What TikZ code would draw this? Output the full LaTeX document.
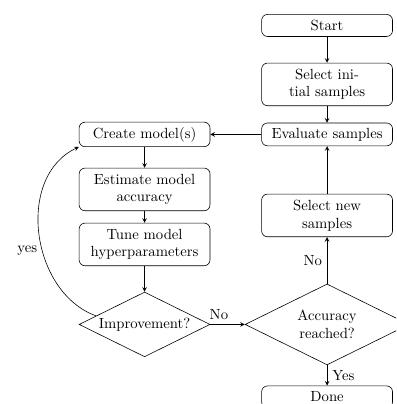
\documentclass[tikz,border=0pt]{standalone}
\usepackage{tikz}
\usetikzlibrary{shapes.geometric, arrows}
\tikzstyle{process} = [rectangle, rounded corners, minimum width=89pt, minimum height=15pt, text centered, align=center, draw=black]
\tikzstyle{twoline} = [minimum height=29pt]
\tikzstyle{decision} = [diamond, aspect=2, inner sep=0pt, text centered, align=center, draw=black]
\tikzstyle{arrow} = [->,>=stealth]

\begin{document}
\begin{tikzpicture}[node distance=37.4pt]
\useasboundingbox (-222.4pt,-257.4pt) rectangle (46.9pt,17.3pt);
\clip (-222.4pt,-257.4pt) rectangle (46.9pt,17.3pt);
\node (start) [process] at (0,0) {Start};
\node (init) [process, twoline, below of=start, yshift=-2.7pt] {Select ini-\\tial samples};
\node (evaluate) [process, below of=init, yshift=3.4pt] {Evaluate samples};
\node (create) [process, left of=evaluate, xshift=-86.7pt] {Create model(s)};
\node (estimate) [process, twoline, below of=create] {Estimate model\\accuracy};
\node (tune) [process, twoline, below of=estimate] {Tune model\\hyperparameters};
\node (improve) [decision, minimum width=89pt, minimum height=44pt, below of=tune, yshift=-17pt] {Improvement?};
\node (accuracy) [decision, minimum width=111.5pt, minimum height=55pt, right of=improve, xshift=86.7pt] {Accuracy\\reached?};
\node (select) [process, twoline, above of=accuracy, yshift=36.7pt] {Select new\\samples};
\node (done) [process, below of=accuracy, yshift=-11.9pt] {Done};

\draw [arrow] (start) -- (init);
\draw [arrow] (init) -- (evaluate);
\draw [arrow] (evaluate) -- (create);
\draw [arrow] (create) -- (estimate);
\draw [arrow] (estimate) -- (tune);
\draw [arrow] (tune) -- (improve);
\draw [arrow] (improve) -- node[above, pos=0.25] {No} (accuracy);
\draw [arrow] (accuracy) -- node[left] {No} (select);
\draw [arrow] (select) -- (evaluate);
\draw [arrow] (accuracy) -- node[right] {Yes} (done);
\draw [arrow] (improve.170) to[out=160, in=205, looseness=1.05] node[left, pos=0.42] {yes} (create.south west);
\end{tikzpicture}
\end{document}
